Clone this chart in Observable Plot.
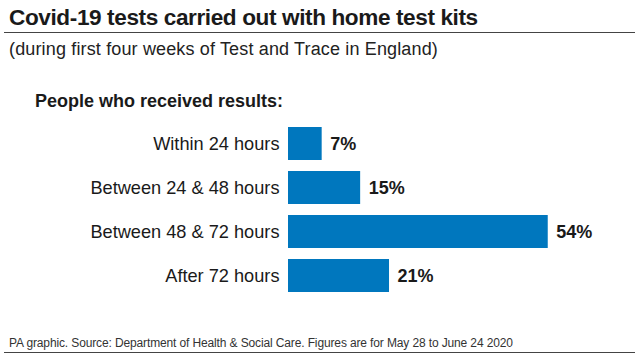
<!DOCTYPE html>
<html>
<head>
<meta charset="utf-8">
<script src="https://cdn.jsdelivr.net/npm/d3@7"></script>
<script src="https://cdn.jsdelivr.net/npm/@observablehq/plot@0.6"></script>
<style>
  html, body { margin: 0; padding: 0; background: #fff; }
  #wrap { position: relative; width: 640px; height: 356px; overflow: hidden; font-family: "Liberation Sans", Arial, sans-serif; color: #1a1a1a; }
  .abs { position: absolute; white-space: nowrap; }
  #title { left: 9px; top: 7px; font-size: 22.6px; line-height: 22px; font-weight: bold; letter-spacing: -0.4px; }
  #rule1 { left: 4px; top: 32px; width: 631px; height: 0; border-top: 1.5px solid #444; }
  #sub { left: 9px; top: 40px; font-size: 18px; line-height: 18px; letter-spacing: 0.15px; color: #222; }
  #head { left: 35px; top: 92px; font-size: 18px; line-height: 18px; font-weight: bold; color: #1a1a1a; }
  #foot { left: 9px; top: 337px; font-size: 12px; line-height: 12px; letter-spacing: -0.13px; color: #333; }
  #rule2 { left: 4px; top: 352px; width: 631px; height: 0; border-top: 1.5px solid #444; }
  #chart { left: 0; top: 100px; }
</style>
</head>
<body>
<div id="wrap">
  <div class="abs" id="title">Covid-19 tests carried out with home test kits</div>
  <div class="abs" id="rule1"></div>
  <div class="abs" id="sub">(during first four weeks of Test and Trace in England)</div>
  <div class="abs" id="head">People who received results:</div>
  <div class="abs" id="chart"></div>
  <div class="abs" id="foot">PA graphic. Source: Department of Health &amp; Social Care. Figures are for May 28 to June 24 2020</div>
  <div class="abs" id="rule2"></div>
</div>
<script>
const categories = ["Within 24 hours", "Between 24 & 48 hours", "Between 48 & 72 hours", "After 72 hours"];
const values = [7, 15, 54, 21];
const valueLabels = ["7%", "15%", "54%", "21%"];

const data = categories.map((c, i) => ({category: c, value: values[i], label: valueLabels[i]}));

const chart = Plot.plot({
  width: 640,
  height: 203,
  marginTop: 16,
  marginBottom: 0,
  marginLeft: 288,
  marginRight: 63.4,
  style: {fontFamily: "'Liberation Sans', Arial, sans-serif", background: "transparent", color: "#1a1a1a"},
  x: {domain: [0, 60], axis: null},
  y: {domain: categories, padding: 0.25, label: null, tickSize: 0, tickPadding: 9},
  marks: [
    Plot.barX(data, {x: "value", y: "category", fill: "#0077be"}),
    Plot.text(data, {x: "value", y: "category", text: "label", textAnchor: "start", dx: 8, fontWeight: "bold", fontSize: 18, fill: "#1a1a1a"}),
    Plot.axisY({tickSize: 0, tickPadding: 9, fontSize: 18.2, label: null, fill: "#1a1a1a"})
  ]
});
document.getElementById("chart").appendChild(chart);
</script>
</body>
</html>
